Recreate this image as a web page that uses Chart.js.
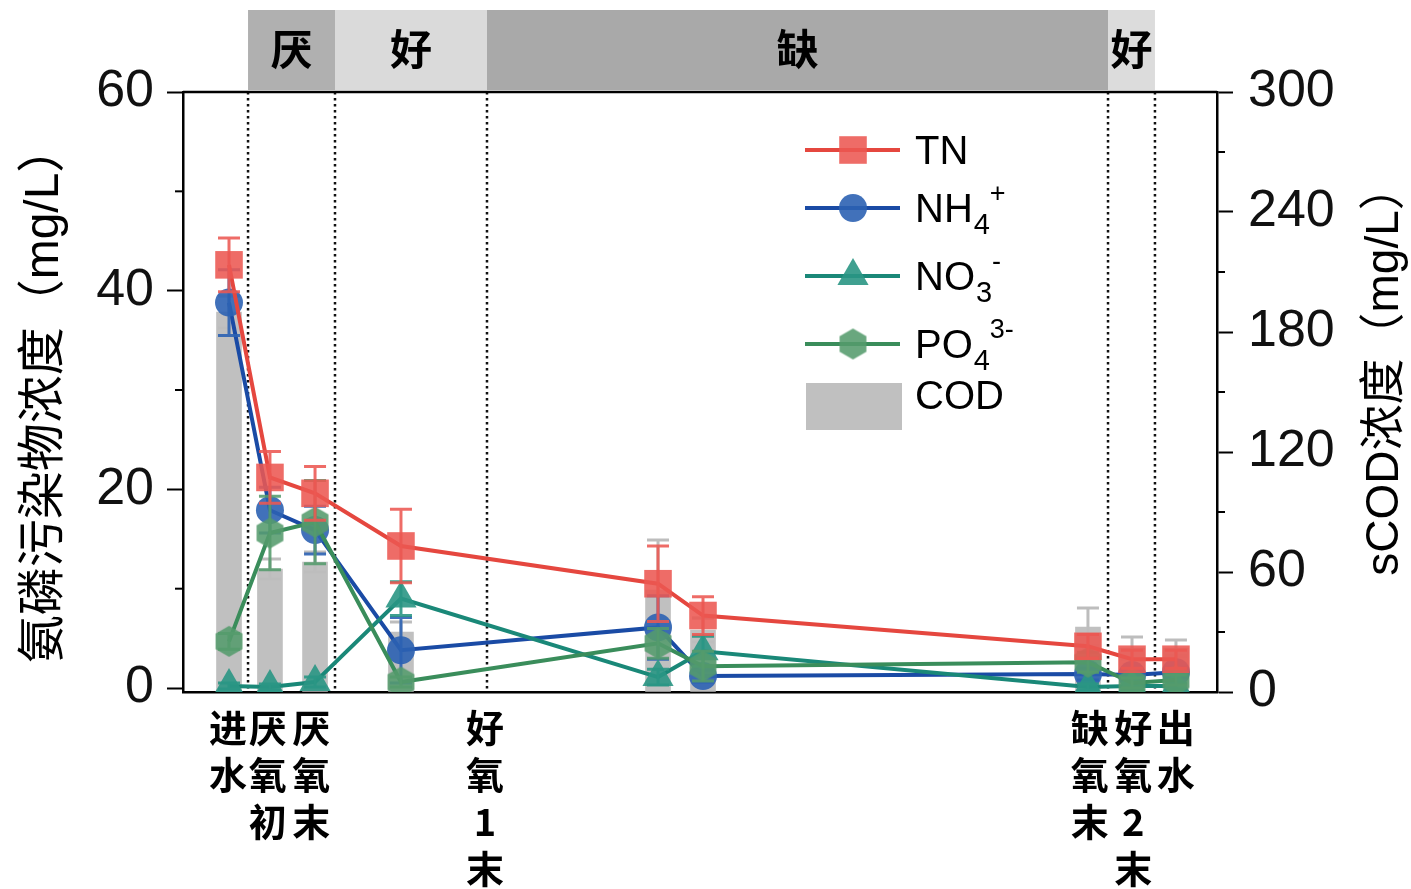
<!DOCTYPE html>
<html>
<head>
<meta charset="utf-8">
<script src="https://cdn.jsdelivr.net/npm/chart.js@4.4.0/dist/chart.umd.min.js"></script>
<style>
  html, body { margin: 0; padding: 0; background: #fff; }
</style>
</head>
<body>
<canvas id="chart" width="1411" height="889"></canvas>
<script>
// sampling positions along the process (arbitrary time axis 0-100)
const timePos = [4.45, 8.41, 12.77, 21.08, 45.94, 50.29, 87.52, 91.78, 96.03];

const tnVals = [42.6, 21.2, 19.6, 14.3, 10.5, 7.3, 4.2, 2.9, 2.9];
const tnErr = [2.7, 2.6, 2.7, 3.7, 3.8, 1.9, 1.2, 0.9, 0.9];
const nh4Vals = [38.8, 17.9, 15.9, 3.8, 6.1, 1.2, 1.4, 1.3, 1.6];
const nh4Err = [3.3, 2.3, 2.4, 3.3, 3.2, 0.6, 0.6, 0.5, 0.5];
const no3Vals = [0.2, 0.1, 0.6, 9.0, 1.1, 3.7, 0.1, 0.2, 0.2];
const no3Err = [0.3, 0.3, 0.5, 1.7, 0.8, 1.5, 0.3, 0.3, 0.3];
const po4Vals = [4.7, 15.6, 16.7, 0.6, 4.5, 2.2, 2.6, 0.5, 0.8];
const po4Err = [0.8, 3.7, 4.2, 0.5, 1.5, 1.5, 1.0, 0.5, 0.5];
const codVals = [190, 61.5, 65, 30, 51, 31, 32.5, 22, 22];
const codErr = [8, 5, 5, 5, 25, 6, 9.5, 5.5, 4];

// x-axis labels (stacked vertically)
const stageLabels = ["进水", "厌氧初", "厌氧末", "好氧1末", "缺氧末", "好氧2末", "出水"];
const stagePos = [4.35, 8.2, 12.4, 29.2, 87.7, 91.9, 96.0];

// phase boundaries and the band on top
const phaseEdges = [6.29, 14.70, 29.40, 89.46, 94.00];
const phaseNames = ["厌", "好", "缺", "好"];
const phaseColors = ["#b0b0b0", "#dadada", "#a9a9a9", "#dcdcdc"];

const leftTicks = [0, 20, 40, 60];
const leftMinor = [10, 30, 50];
const rightMinor = [30, 90, 150, 210, 270];

const CJK = '"Noto Sans CJK SC", sans-serif';
const LATIN = '"Liberation Sans", Arial, "Noto Sans CJK SC", sans-serif';

function makeHex(r, fill) {
  const c = document.createElement("canvas");
  const s = Math.ceil(r * 2) + 2;
  c.width = s; c.height = s;
  const g = c.getContext("2d");
  g.fillStyle = fill;
  g.beginPath();
  for (let i = 0; i < 6; i++) {
    const a = Math.PI / 3 * i - Math.PI / 2;
    g.lineTo(s / 2 + r * Math.cos(a), s / 2 + r * Math.sin(a));
  }
  g.closePath();
  g.fill();
  return c;
}
const hexImg = makeHex(15.5, "rgba(84,155,108,0.88)");

const toXY = (vals) => vals.map((v, i) => ({ x: timePos[i], y: v }));

const series = [
  { label: "TN", vals: tnVals, err: tnErr, line: "#e5473f", fill: "rgba(236,88,82,0.88)", style: "rect", r: 19.5 },
  { label: "NH4", vals: nh4Vals, err: nh4Err, line: "#1a4ba5", fill: "rgba(44,98,178,0.9)", style: "circle", r: 14 },
  { label: "NO3", vals: no3Vals, err: no3Err, line: "#1a8878", fill: "rgba(42,150,132,0.9)", style: "triangle", r: 18 },
  { label: "PO4", vals: po4Vals, err: po4Err, line: "#3a8d5b", fill: "rgba(84,155,108,0.88)", style: hexImg, r: 15.5 },
];
const drawOrder = { TN: 1, NH4: 4, NO3: 3, PO4: 2 };

const datasets = series.map((s) => ({
  type: "line",
  label: s.label,
  data: toXY(s.vals),
  errors: s.err,
  borderColor: s.line,
  borderWidth: 4,
  backgroundColor: s.fill,
  pointStyle: s.style,
  pointRadius: s.r,
  pointBorderWidth: 0,
  pointBackgroundColor: s.fill,
  tension: 0,
  yAxisID: "y",
  order: drawOrder[s.label],
}));

datasets.push({
  type: "bar",
  label: "COD",
  data: toXY(codVals),
  errors: codErr,
  errColor: "#bdbdbd",
  backgroundColor: "#c0c0c0",
  barThickness: 25,
  yAxisID: "y2",
  order: 10,
});

const extras = {
  id: "extras",
  beforeDatasetsDraw(chart) {
    const { ctx, chartArea: a, scales: { x } } = chart;
    ctx.save();
    ctx.strokeStyle = "#111";
    ctx.lineWidth = 2.5;
    ctx.setLineDash([2.5, 3.5]);
    phaseEdges.forEach((v) => {
      const px = x.getPixelForValue(v);
      ctx.beginPath();
      ctx.moveTo(px, a.top);
      ctx.lineTo(px, a.bottom);
      ctx.stroke();
    });
    ctx.restore();
  },
  afterDatasetDraw(chart, args) {
    const ds = chart.data.datasets[args.index];
    const meta = args.meta;
    const yScale = chart.scales[ds.yAxisID];
    const ctx = chart.ctx;
    ctx.save();
    ctx.strokeStyle = ds.errColor || ds.backgroundColor;
    ctx.lineWidth = 3;
    meta.data.forEach((el, i) => {
      const v = ds.data[i].y, e = ds.errors[i];
      const yt = yScale.getPixelForValue(v + e);
      const yb = yScale.getPixelForValue(v - e);
      ctx.beginPath();
      ctx.moveTo(el.x, yt); ctx.lineTo(el.x, yb);
      ctx.moveTo(el.x - 11, yt); ctx.lineTo(el.x + 11, yt);
      ctx.moveTo(el.x - 11, yb); ctx.lineTo(el.x + 11, yb);
      ctx.stroke();
    });
    ctx.restore();
  },
  afterDraw(chart) {
    const { ctx, chartArea: a, scales: { x, y, y2 } } = chart;
    ctx.save();
    // top frame line
    ctx.strokeStyle = "#000";
    ctx.lineWidth = 2.5;
    ctx.beginPath();
    ctx.moveTo(a.left, a.top); ctx.lineTo(a.right, a.top);
    ctx.stroke();

    // minor ticks
    ctx.lineWidth = 2;
    leftMinor.forEach((v) => {
      const py = y.getPixelForValue(v);
      ctx.beginPath(); ctx.moveTo(a.left - 8, py); ctx.lineTo(a.left, py); ctx.stroke();
    });
    rightMinor.forEach((v) => {
      const py = y2.getPixelForValue(v);
      ctx.beginPath(); ctx.moveTo(a.right, py); ctx.lineTo(a.right + 8, py); ctx.stroke();
    });

    // phase band
    for (let i = 0; i < phaseNames.length; i++) {
      const x0 = x.getPixelForValue(phaseEdges[i]);
      const x1 = x.getPixelForValue(phaseEdges[i + 1]);
      ctx.fillStyle = phaseColors[i];
      ctx.fillRect(x0, 10, x1 - x0, a.top - 12);
      ctx.fillStyle = "#000";
      ctx.font = "bold 42px " + CJK;
      ctx.textAlign = "center";
      ctx.textBaseline = "middle";
      ctx.fillText(phaseNames[i], (x0 + x1) / 2, 49);
    }

    // axis titles
    ctx.fillStyle = "#000";
    ctx.textAlign = "center";
    ctx.textBaseline = "middle";
    ctx.save();
    ctx.font = "48px " + LATIN;
    ctx.translate(45, 394);
    ctx.rotate(-Math.PI / 2);
    ctx.fillText("氨磷污染物浓度（mg/L）", 0, 0);
    ctx.restore();
    ctx.save();
    ctx.font = "46px " + LATIN;
    ctx.translate(1385, 370);
    ctx.rotate(-Math.PI / 2);
    ctx.fillText("sCOD浓度（mg/L）", 0, 0);
    ctx.restore();

    // legend
    const lx0 = 805, lx1 = 900, mx = 853, tx = 915;
    const rows = [150, 208, 276, 344];
    const texts = [
      [["TN", 0]],
      [["NH", 0], ["4", 1], ["+", -1]],
      [["NO", 0], ["3", 1], ["-", -1]],
      [["PO", 0], ["4", 1], ["3-", -1]],
    ];
    series.forEach((s, i) => {
      const ry = rows[i];
      ctx.strokeStyle = s.line;
      ctx.lineWidth = 4;
      ctx.beginPath(); ctx.moveTo(lx0, ry); ctx.lineTo(lx1, ry); ctx.stroke();
      ctx.fillStyle = s.fill;
      Chart.helpers.drawPoint(ctx, { pointStyle: s.style, radius: s.r, rotation: 0, borderWidth: 0 }, mx, ry);
      let cx = tx;
      ctx.textAlign = "left";
      ctx.textBaseline = "alphabetic";
      ctx.fillStyle = "#000";
      let subX = null;
      texts[i].forEach(([t, kind]) => {
        if (kind === 0) {
          ctx.font = "40px " + LATIN;
          ctx.fillText(t, cx, ry + 14);
          cx += ctx.measureText(t).width;
        } else if (kind === 1) {
          ctx.font = "29px " + LATIN;
          ctx.fillText(t, cx + 1, ry + 26);
          subX = cx + 1;
          cx += ctx.measureText(t).width + 1;
        } else {
          ctx.font = "27px " + LATIN;
          ctx.fillText(t, subX !== null ? subX + 16 : cx, ry - 6);
        }
      });
    });
    ctx.fillStyle = "#c0c0c0";
    ctx.fillRect(806, 383, 96, 47);
    ctx.fillStyle = "#000";
    ctx.font = "40px " + LATIN;
    ctx.textAlign = "left";
    ctx.textBaseline = "alphabetic";
    ctx.fillText("COD", tx, 409);
    ctx.restore();
  },
};

new Chart(document.getElementById("chart"), {
  type: "line",
  data: { datasets },
  options: {
    responsive: false,
    animation: false,
    layout: { padding: { top: 92, left: 0, right: 0, bottom: 0 } },
    plugins: { legend: { display: false }, tooltip: { enabled: false } },
    scales: {
      x: {
        type: "linear",
        min: 0,
        max: 100,
        offset: false,
        afterFit: (scale) => { scale.height = 197; },
        afterBuildTicks: (scale) => { scale.ticks = stagePos.map((v) => ({ value: v })); },
        ticks: {
          autoSkip: false,
          maxRotation: 0,
          minRotation: 0,
          padding: 12,
          color: "#000",
          font: { family: CJK, size: 38, weight: "bold", lineHeight: 1.24 },
          callback: (v, i) => Array.from(stageLabels[i]),
        },
        grid: { drawOnChartArea: false, drawTicks: false },
        border: { display: true, color: "#000", width: 2.5 },
      },
      y: {
        position: "left",
        min: -0.4,
        max: 60,
        afterFit: (scale) => { scale.width = 183; },
        afterBuildTicks: (scale) => { scale.ticks = leftTicks.map((v) => ({ value: v })); },
        ticks: { color: "#111", padding: 13, font: { family: LATIN, size: 52 } },
        grid: { drawOnChartArea: false, tickLength: 16, tickWidth: 2, tickColor: "#000" },
        border: { display: true, color: "#000", width: 2.5 },
      },
      y2: {
        position: "right",
        min: 0,
        max: 300,
        afterFit: (scale) => { scale.width = 194; },
        ticks: { stepSize: 60, color: "#111", padding: 15, font: { family: LATIN, size: 52 } },
        grid: { drawOnChartArea: false, tickLength: 16, tickWidth: 2, tickColor: "#000" },
        border: { display: true, color: "#000", width: 2.5 },
      },
    },
  },
  plugins: [extras],
});
</script>
</body>
</html>
